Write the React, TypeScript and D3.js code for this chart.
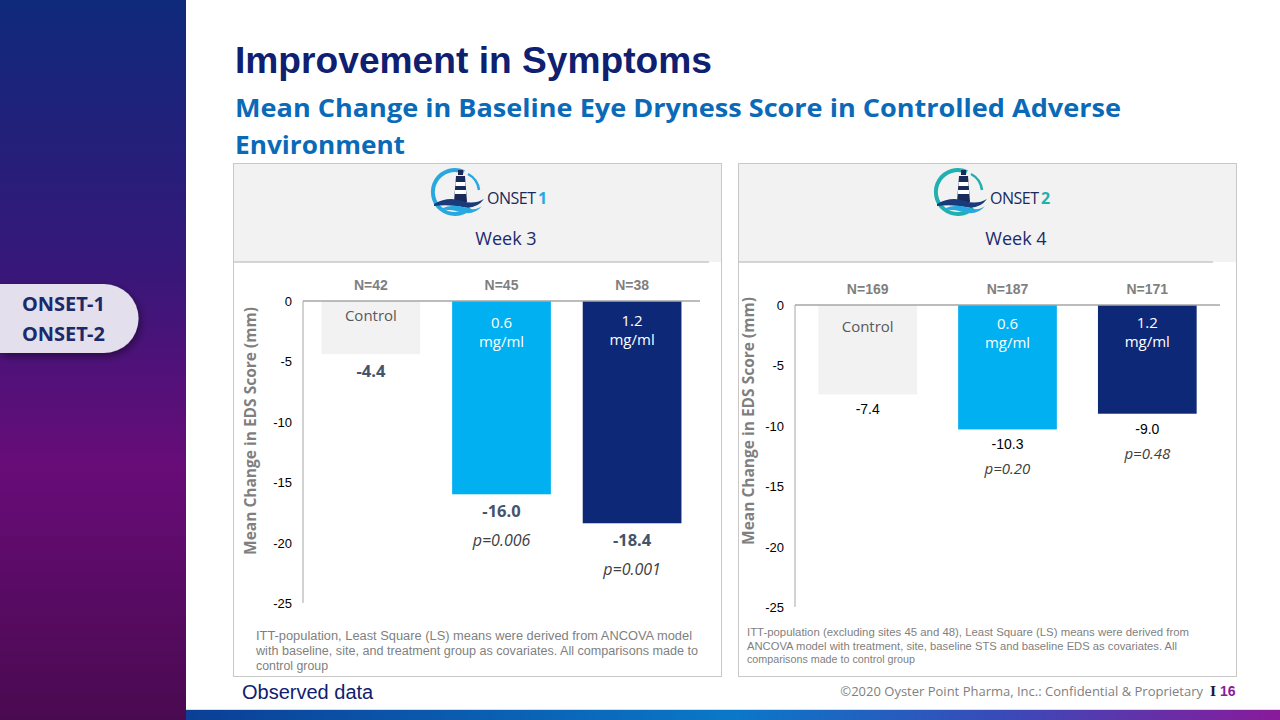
import React from "react";
import * as d3 from "d3";

const categories = ["Control", "0.6 mg/ml", "1.2 mg/ml"];
const barInnerLabels = [["Control"], ["0.6", "mg/ml"], ["1.2", "mg/ml"]];
const barColors = ["#f2f2f2", "#00b0f0", "#0e2878"];
const innerTextColors = ["#595959", "#ffffff", "#ffffff"];

const onset1Values = [-4.4, -16.0, -18.4];
const onset1N = ["N=42", "N=45", "N=38"];
const onset1P = ["", "p=0.006", "p=0.001"];

const onset2Values = [-7.4, -10.3, -9.0];
const onset2N = ["N=169", "N=187", "N=171"];
const onset2P = ["", "p=0.20", "p=0.48"];

const yTicks = [0, -5, -10, -15, -20, -25];

const footnote1 = [
  "ITT-population, Least Square (LS) means were derived from ANCOVA model",
  "with baseline, site, and treatment group as covariates. All comparisons made to",
  "control group",
];
const footnote2 = [
  "ITT-population (excluding sites 45 and 48), Least Square (LS) means were derived from",
  "ANCOVA model with treatment, site, baseline STS and baseline EDS as covariates. All",
  "comparisons made to control group",
];

const SANS = "'Open Sans', 'Noto Sans', sans-serif";
const ARIAL = "'Liberation Sans', Arial, sans-serif";

type ChartProps = {
  xRange: [number, number];
  yRange: [number, number];
  padding: number;
  values: number[];
  nLabels: string[];
  pLabels: string[];
  bold: boolean;
  titleX: number;
  titleY: number;
  innerOffsets: number[][];
};

function BarChart(props: ChartProps) {
  const { xRange, yRange, padding, values, nLabels, pLabels, bold, titleX, titleY, innerOffsets } = props;
  const x = d3.scaleBand<string>().domain(categories).range(xRange).paddingInner(padding).paddingOuter(padding / 2 + 0.02);
  const y = d3.scaleLinear().domain([0, -25]).range(yRange);
  const y0 = y(0);
  return (
    <g>
      {categories.map((c, i) => {
        const bx = x(c)!;
        const bw = x.bandwidth();
        const cx = bx + bw / 2;
        const yEnd = y(values[i]);
        const valBase = bold ? yEnd + 23 : yEnd + 20;
        const pBase = bold ? valBase + 29 : valBase + 25;
        return (
          <g key={c}>
            <rect x={bx} y={y0} width={bw} height={yEnd - y0} fill={barColors[i]} />
            {barInnerLabels[i].map((t, j) => (
              <text key={j} x={cx} y={y0 + innerOffsets[i][j]} textAnchor="middle" fontFamily={SANS}
                fontSize={15} fill={innerTextColors[i]}>{t}</text>
            ))}
            <text x={cx} y={y0 - 11} textAnchor="middle" fontFamily={ARIAL} fontWeight="bold" fontSize={14} fill="#7f7f7f">{nLabels[i]}</text>
            <text x={cx} y={valBase} textAnchor="middle" fontFamily={bold ? SANS : ARIAL}
              fontWeight={bold ? "bold" : "normal"} fontSize={bold ? 16.5 : 14} fill={bold ? "#44546a" : "#000"}>
              {d3.format(".1f")(values[i]).replace("−", "-")}
            </text>
            {pLabels[i] && (
              <text x={cx} y={pBase} textAnchor="middle" fontFamily={SANS} fontStyle="italic" fontSize={bold ? 16 : 15} fill="#404040">{pLabels[i]}</text>
            )}
          </g>
        );
      })}
      <line x1={xRange[0]} x2={xRange[0]} y1={y0} y2={yRange[1]} stroke="#a6a6a6" strokeWidth={1} />
      <line x1={xRange[0]} x2={xRange[1]} y1={y0} y2={y0} stroke="#a6a6a6" strokeWidth={1.5} />
      {yTicks.map((t) => (
        <text key={t} x={xRange[0] - 11} y={y(t) + 5} textAnchor="end" fontFamily={ARIAL} fontSize={13} fill="#000">{t}</text>
      ))}
      <text transform={`translate(${titleX},${titleY}) rotate(-90)`} textAnchor="middle" fontFamily={SANS}
        fontWeight="bold" fontSize={15.5} fill="#7f7f7f">Mean Change in EDS Score (mm)</text>
    </g>
  );
}

function Logo({ x, y, num, numColor, arcColor }: { x: number; y: number; num: string; numColor: string; arcColor: string }) {
  return (
    <g transform={`translate(${x},${y})`}>
      <path d="M 30 4 A 22 22 0 1 0 36 40" fill="none" stroke={arcColor} strokeWidth={4} />
      <path d="M 34 6 A 21 21 0 0 1 45 22" fill="none" stroke={arcColor} strokeWidth={2.5} />
      <rect x={24} y={2} width={5} height={5} fill="#1a2a5a" />
      <path d="M 22 8 L 31 8 L 33 34 L 20 34 Z" fill="#1a2a5a" />
      <rect x={21.5} y={14} width={10} height={4} fill="#ffffff" />
      <rect x={21} y={22} width={11} height={4} fill="#ffffff" />
      <path d="M 0 36 Q 14 28 28 33 Q 40 37 50 31 Q 42 42 28 39 Q 14 36 0 38 Z" fill="#1a3a7a" />
      <path d="M 6 41 Q 20 35 32 40 Q 42 43 48 38 Q 40 48 26 44 Q 16 41 6 42 Z" fill="#29a8e0" />
      <text x={53} y={36} fontFamily={SANS} fontSize={16} fill="#1a2a5a" letterSpacing={-0.5}>ONSET</text>
      <text x={104} y={36} fontFamily={SANS} fontSize={16} fontWeight="bold" fill={numColor}>{num}</text>
    </g>
  );
}

export default function App() {
  return (
    <svg width={1280} height={720} style={{ position: "absolute", left: 0, top: 0 }} xmlns="http://www.w3.org/2000/svg">
      <defs>
        <linearGradient id="side" x1="0" y1="0" x2="0" y2="1">
          <stop offset="0" stopColor="#0f2a7a" />
          <stop offset="0.35" stopColor="#34187a" />
          <stop offset="0.65" stopColor="#680c78" />
          <stop offset="1" stopColor="#4a0a50" />
        </linearGradient>
        <linearGradient id="bottom" x1="0" y1="0" x2="1" y2="0">
          <stop offset="0" stopColor="#0b3f96" />
          <stop offset="0.5" stopColor="#0a78c8" />
          <stop offset="0.75" stopColor="#3a4ab8" />
          <stop offset="1" stopColor="#8a1a9a" />
        </linearGradient>
        <filter id="shadow" x="-20%" y="-30%" width="140%" height="160%">
          <feDropShadow dx="2" dy="3" stdDeviation="4" floodColor="#000" floodOpacity="0.45" />
        </filter>
      </defs>
      <rect x={0} y={0} width={1280} height={720} fill="#ffffff" />
      <rect x={0} y={0} width={186} height={720} fill="url(#side)" />
      <rect x={186} y={710} width={1094} height={10} fill="url(#bottom)" />
      <line x1={186} x2={1280} y1={709.5} y2={709.5} stroke="#cfe0f0" strokeWidth={1} />

      <path d="M 0 284 L 104 284 A 34.5 34.5 0 0 1 104 353 L 0 353 Z" fill="#e4dfec" filter="url(#shadow)" />
      <text x={22} y={311} fontFamily="'Noto Sans', 'DejaVu Sans', sans-serif" fontWeight="bold" fontSize={20} fill="#1a2a6a">ONSET-1</text>
      <text x={22} y={341} fontFamily="'Noto Sans', 'DejaVu Sans', sans-serif" fontWeight="bold" fontSize={20} fill="#1a2a6a">ONSET-2</text>

      <text x={235} y={73} fontFamily={ARIAL} fontWeight="bold" fontSize={37} fill="#0f2070" textLength={477} lengthAdjust="spacingAndGlyphs">Improvement in Symptoms</text>
      <text x={235} y={117} fontFamily={SANS} fontWeight="bold" fontSize={25} fill="#0a6ab8" textLength={886} lengthAdjust="spacingAndGlyphs">Mean Change in Baseline Eye Dryness Score in Controlled Adverse</text>
      <text x={235} y={154} fontFamily={SANS} fontWeight="bold" fontSize={25} fill="#0a6ab8" textLength={170} lengthAdjust="spacingAndGlyphs">Environment</text>

      {/* left panel */}
      <rect x={233.5} y={163.5} width={488} height={513} fill="#ffffff" stroke="#c8c8c8" />
      <rect x={234} y={164} width={487} height={98} fill="#f2f2f2" />
      <line x1={233} x2={709} y1={262} y2={262} stroke="#c8c8c8" strokeWidth={1.5} />
      <Logo x={434} y={168} num="1" numColor="#29a8e0" arcColor="#29a8e0" />
      <text x={506} y={245} textAnchor="middle" fontFamily={SANS} fontSize={18} fill="#1a2a70">Week 3</text>
      <BarChart xRange={[303, 700]} yRange={[301, 603]} padding={0.244} values={onset1Values} nLabels={onset1N} pLabels={onset1P}
        bold={true} titleX={256} titleY={431} innerOffsets={[[20], [27, 46], [25, 44]]} />
      {footnote1.map((t, i) => (
        <text key={i} x={256} y={640 + i * 15} fontFamily={ARIAL} fontSize={12} fill="#7f7f7f" textLength={[436, 442, 72][i]} lengthAdjust="spacingAndGlyphs">{t}</text>
      ))}

      {/* right panel */}
      <rect x={738.5} y={163.5} width={498} height={513} fill="#ffffff" stroke="#c8c8c8" />
      <rect x={739} y={164} width={497} height={98} fill="#f2f2f2" />
      <line x1={738} x2={1213} y1={262} y2={262} stroke="#c8c8c8" strokeWidth={1.5} />
      <Logo x={937} y={168} num="2" numColor="#20b0b0" arcColor="#20b0b0" />
      <text x={1016} y={245} textAnchor="middle" fontFamily={SANS} fontSize={18} fill="#1a2a70">Week 4</text>
      <BarChart xRange={[795, 1220]} yRange={[305, 607]} padding={0.294} values={onset2Values} nLabels={onset2N} pLabels={onset2P}
        bold={false} titleX={754} titleY={421} innerOffsets={[[27], [24, 43], [23, 42]]} />
      {footnote2.map((t, i) => (
        <text key={i} x={747} y={636 + i * 13.5} fontFamily={ARIAL} fontSize={11} fill="#7f7f7f" textLength={[442, 430, 168][i]} lengthAdjust="spacingAndGlyphs">{t}</text>
      ))}

      <text x={242} y={699} fontFamily={ARIAL} fontSize={20} fill="#0f2070">Observed data</text>
      <text x={1203} y={696} textAnchor="end" fontFamily={SANS} fontSize={13} fill="#7f7f7f">©2020 Oyster Point Pharma, Inc.:  Confidential &amp; Proprietary</text>
      <text x={1210} y={696} fontFamily="'DejaVu Serif', serif" fontWeight="bold" fontSize={13} fill="#1a1a3a">I</text>
      <text x={1220} y={696} fontFamily={ARIAL} fontWeight="bold" fontSize={14} fill="#8a1a9a">16</text>
    </svg>
  );
}
